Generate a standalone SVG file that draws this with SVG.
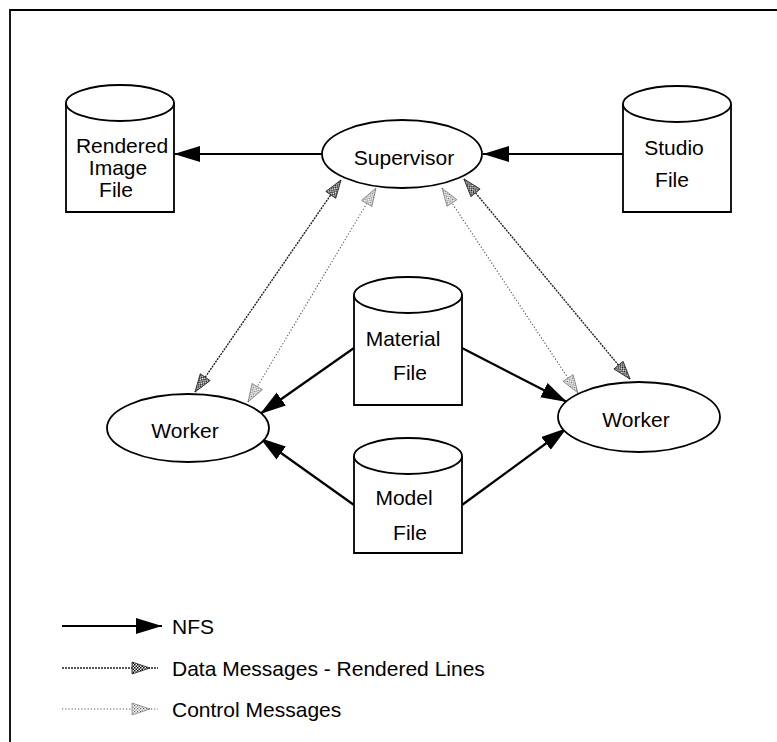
<svg xmlns="http://www.w3.org/2000/svg" width="777" height="742" viewBox="0 0 777 742">
<style>
.shape{fill:#fff;stroke:#000;stroke-width:1.8}
.lbl{font-family:"Liberation Sans",Arial,sans-serif;font-size:21px;fill:#000;text-anchor:middle}
.leg{font-family:"Liberation Sans",Arial,sans-serif;font-size:21px;fill:#000}
.nfs{stroke:#000;stroke-width:2.2;fill:none;marker-end:url(#aNfs)}
.data{stroke:#222;stroke-width:1.4;stroke-dasharray:2 1;fill:none}
.ctrl{stroke:#555;stroke-width:1.1;stroke-dasharray:1.2 2;fill:none}
</style>
<defs>
<pattern id="chkD" width="3" height="3" patternUnits="userSpaceOnUse">
<rect width="3" height="3" fill="#fff"/><rect width="1.5" height="1.5" fill="#000"/><rect x="1.5" y="1.5" width="1.5" height="1.5" fill="#000"/>
</pattern>
<pattern id="chkL" width="3" height="3" patternUnits="userSpaceOnUse">
<rect width="3" height="3" fill="#fff"/><rect width="1.2" height="1.2" fill="#555"/><rect x="1.5" y="1.5" width="1.2" height="1.2" fill="#555"/>
</pattern>
<marker id="aNfs" markerUnits="userSpaceOnUse" markerWidth="28" markerHeight="18" refX="26" refY="8" orient="auto-start-reverse">
<path d="M0,0 L26,8 L0,16 z" fill="#000"/>
</marker>
<marker id="aData" markerUnits="userSpaceOnUse" markerWidth="22" markerHeight="16" refX="19" refY="7" orient="auto-start-reverse">
<path d="M1,1 L19,7 L1,13 z" fill="url(#chkD)" stroke="#222" stroke-width="0.8"/>
</marker>
<marker id="aCtrl" markerUnits="userSpaceOnUse" markerWidth="22" markerHeight="16" refX="19" refY="7" orient="auto-start-reverse">
<path d="M1,1 L19,7 L1,13 z" fill="url(#chkL)" stroke="#666" stroke-width="0.6"/>
</marker>
</defs>

<g id="frame">
<path d="M10,742 L10,10 L777,10" fill="none" stroke="#000" stroke-width="1.8"/>
</g>

<g id="connectors">
<line class="nfs" x1="322" y1="154" x2="174" y2="154"/>
<line class="nfs" x1="623" y1="154" x2="483" y2="154"/>
<line class="nfs" x1="354" y1="348" x2="260" y2="414"/>
<line class="nfs" x1="354" y1="505" x2="260" y2="438"/>
<line class="nfs" x1="462" y1="348" x2="567" y2="402"/>
<line class="nfs" x1="462" y1="505" x2="567" y2="428"/>
<line class="data" x1="195" y1="392" x2="341" y2="180" marker-start="url(#aData)" marker-end="url(#aData)"/>
<line class="ctrl" x1="248" y1="402" x2="376" y2="188" marker-start="url(#aCtrl)" marker-end="url(#aCtrl)"/>
<line class="data" x1="464" y1="179" x2="630" y2="379" marker-start="url(#aData)" marker-end="url(#aData)"/>
<line class="ctrl" x1="442" y1="188" x2="578" y2="393" marker-start="url(#aCtrl)" marker-end="url(#aCtrl)"/>
</g>

<g id="rendered">
<path class="shape" d="M66,103 L66,212 L174,212 L174,103"/>
<ellipse class="shape" cx="120" cy="103" rx="54" ry="18"/>
<text class="lbl" x="122" y="153">Rendered</text>
<text class="lbl" x="118" y="175">Image</text>
<text class="lbl" x="116" y="197">File</text>
</g>

<g id="studio">
<path class="shape" d="M623,104 L623,212 L731,212 L731,104"/>
<ellipse class="shape" cx="677" cy="104" rx="54" ry="18"/>
<text class="lbl" x="674" y="155">Studio</text>
<text class="lbl" x="672" y="187">File</text>
</g>

<g id="supervisor">
<ellipse class="shape" cx="402" cy="154" rx="80" ry="34"/>
<text class="lbl" x="404" y="165">Supervisor</text>
</g>

<g id="material">
<path class="shape" d="M354,295 L354,405 L462,405 L462,295"/>
<ellipse class="shape" cx="408" cy="295" rx="54" ry="18"/>
<text class="lbl" x="403" y="346">Material</text>
<text class="lbl" x="410" y="380">File</text>
</g>

<g id="model">
<path class="shape" d="M354,456 L354,553 L462,553 L462,456"/>
<ellipse class="shape" cx="408" cy="456" rx="54" ry="18"/>
<text class="lbl" x="404" y="505">Model</text>
<text class="lbl" x="410" y="540">File</text>
</g>

<g id="worker-left">
<ellipse class="shape" cx="188" cy="428" rx="81" ry="34"/>
<text class="lbl" x="185" y="438">Worker</text>
</g>

<g id="worker-right">
<ellipse class="shape" cx="639" cy="417" rx="81" ry="35"/>
<text class="lbl" x="636" y="427">Worker</text>
</g>

<g id="legend">
<line class="nfs" x1="62" y1="626" x2="162" y2="626"/>
<text class="leg" x="172" y="634">NFS</text>
<line class="data" x1="62" y1="668" x2="150" y2="668" marker-end="url(#aData)"/>
<line class="data" x1="151" y1="668" x2="158" y2="668"/>
<text class="leg" x="172" y="676">Data Messages - Rendered Lines</text>
<line class="ctrl" x1="62" y1="709" x2="150" y2="709" marker-end="url(#aCtrl)"/>
<line class="ctrl" x1="151" y1="709" x2="158" y2="709"/>
<text class="leg" x="172" y="717">Control Messages</text>
</g>
</svg>
